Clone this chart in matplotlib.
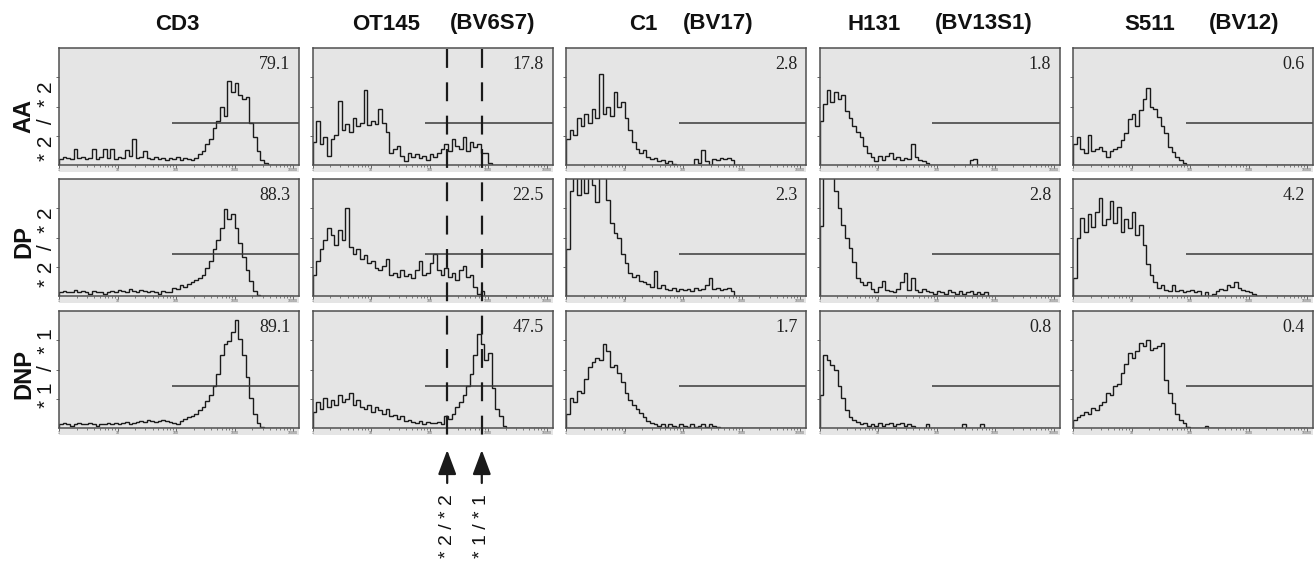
import numpy as np
import matplotlib.pyplot as plt
from matplotlib.patches import Rectangle

# --- LABELS ---
antibodies = ["CD3", "OT145", "C1", "H131", "S511"]
families = ["", "(BV6S7)", "(BV17)", "(BV13S1)", "(BV12)"]
groups = ["AA", "DP", "DNP"]
genotypes = ["* 2  /  * 2", "* 2  /  * 2", "* 1  /  * 1"]

# % positive printed in each panel (rows = groups, cols = antibodies)
percent_pos = [["79.1", "17.8", "2.8", "1.8", "0.6"],
               ["88.3", "22.5", "2.3", "2.8", "4.2"],
               ["89.1", "47.5", "1.7", "0.8", "0.4"]]

# marker gate and OT145 allele cut-offs (fluorescence units)
gate_start = 85
gate_level = 36
allele_cuts = [200, 780]
allele_labels = ["* 2 / * 2", "* 1 / * 1"]

# --- HISTOGRAMS: counts in % of full scale, 16 channels per decade from 10^0 ---
cd3_aa = [5, 7, 6, 5, 14, 6, 7, 5, 6, 14, 5, 7, 14, 6, 14, 5,
          7, 6, 13, 8, 22, 6, 7, 12, 6, 5, 7, 5, 6, 4, 6, 5,
          7, 4, 6, 5, 4, 6, 9, 12, 18, 22, 32, 38, 50, 42, 72, 62,
          70, 60, 56, 58, 36, 24, 12, 4, 2, 0, 0, 0, 0, 0, 0, 0]
cd3_dp = [3, 4, 3, 3, 5, 3, 4, 3, 2, 4, 3, 3, 2, 3, 4, 3,
          5, 4, 3, 6, 4, 3, 5, 4, 3, 4, 3, 2, 4, 3, 3, 7,
          6, 9, 8, 10, 12, 14, 15, 18, 24, 30, 40, 48, 58, 74, 66, 70,
          58, 45, 33, 22, 13, 4, 1, 0, 0, 0, 0, 0, 0, 0, 0, 0]
cd3_dnp = [3, 4, 3, 2, 3, 4, 3, 3, 4, 3, 2, 3, 3, 4, 3, 4,
           3, 4, 5, 3, 4, 5, 6, 5, 7, 6, 5, 6, 7, 6, 5, 4,
           3, 6, 8, 9, 10, 12, 15, 18, 23, 28, 36, 46, 62, 72, 74, 82,
           92, 76, 62, 44, 26, 12, 4, 1, 0, 0, 0, 0, 0, 0, 0, 0]

ot_aa = [20, 38, 18, 24, 8, 22, 26, 55, 30, 35, 28, 40, 33, 36, 64, 34,
         38, 35, 48, 36, 28, 10, 14, 16, 8, 3, 10, 7, 9, 6, 8, 4,
         9, 7, 10, 14, 18, 12, 22, 16, 14, 24, 12, 20, 15, 18, 10, 10,
         2, 0, 0, 0, 0, 0, 0, 0, 0, 0, 0, 0, 0, 0, 0, 0]
ot_dp = [18, 30, 40, 48, 58, 52, 44, 56, 48, 75, 42, 36, 40, 32, 35, 28,
         30, 24, 22, 26, 32, 18, 20, 16, 22, 17, 19, 15, 22, 30, 18, 20,
         28, 36, 22, 18, 24, 16, 20, 14, 22, 26, 16, 18, 8, 2, 4, 0,
         0, 0, 0, 0, 0, 0, 0, 0, 0, 0, 0, 0, 0, 0, 0, 0]
ot_dnp = [14, 22, 16, 26, 18, 24, 20, 28, 22, 25, 30, 20, 24, 18, 16, 20,
          14, 18, 15, 12, 16, 10, 11, 8, 10, 6, 7, 5, 4, 6, 3, 5,
          4, 4, 5, 3, 10, 8, 12, 18, 22, 28, 36, 46, 62, 80, 72, 58,
          64, 34, 16, 10, 2, 0, 0, 0, 0, 0, 0, 0, 0, 0, 0, 0]

c1_aa = [22, 30, 26, 40, 33, 44, 36, 48, 40, 78, 44, 50, 42, 62, 50, 54,
         40, 30, 20, 14, 10, 13, 7, 5, 6, 3, 4, 2, 3, 1, 0, 0,
         0, 0, 0, 5, 2, 13, 3, 0, 5, 4, 6, 5, 6, 4, 0, 0,
         0, 0, 0, 0, 0, 0, 0, 0, 0, 0, 0, 0, 0, 0, 0, 0]
c1_dp = [40, 90, 105, 86, 105, 88, 105, 95, 80, 105, 105, 82, 62, 54, 50, 36,
         28, 20, 16, 18, 13, 12, 10, 8, 21, 7, 9, 6, 5, 7, 4, 6,
         5, 6, 4, 7, 5, 6, 9, 15, 6, 7, 5, 6, 7, 4, 0, 0,
         0, 0, 0, 0, 0, 0, 0, 0, 0, 0, 0, 0, 0, 0, 0, 0]
c1_dnp = [12, 26, 22, 32, 30, 42, 52, 56, 60, 58, 72, 66, 52, 54, 47, 39,
          30, 24, 20, 16, 13, 9, 6, 4, 3, 2, 3, 1, 3, 2, 1, 3,
          2, 1, 3, 1, 2, 3, 1, 3, 2, 1, 0, 0, 0, 0, 0, 0,
          0, 0, 0, 0, 0, 0, 0, 0, 0, 0, 0, 0, 0, 0, 0, 0]

h131_aa = [38, 52, 64, 54, 62, 56, 60, 46, 40, 33, 28, 24, 16, 10, 7, 3,
           8, 4, 8, 10, 5, 7, 4, 6, 5, 18, 7, 4, 3, 2, 0, 0,
           0, 0, 0, 0, 0, 0, 0, 0, 0, 4, 5, 0, 0, 0, 0, 0,
           0, 0, 0, 0, 0, 0, 0, 0, 0, 0, 0, 0, 0, 0, 0, 0]
h131_dp = [60, 105, 105, 105, 90, 75, 61, 50, 41, 29, 15, 12, 9, 12, 6, 3,
           8, 13, 5, 4, 3, 6, 12, 20, 5, 15, 5, 3, 6, 4, 3, 2,
           4, 3, 2, 5, 3, 2, 4, 2, 3, 4, 2, 3, 2, 3, 0, 0,
           0, 0, 0, 0, 0, 0, 0, 0, 0, 0, 0, 0, 0, 0, 0, 0]
h131_dnp = [28, 62, 58, 54, 50, 36, 26, 15, 9, 7, 5, 3, 4, 2, 3, 2,
            4, 2, 3, 4, 2, 3, 4, 2, 3, 2, 0, 0, 0, 3, 0, 0,
            0, 0, 0, 0, 0, 0, 0, 3, 0, 0, 0, 0, 3, 0, 0, 0,
            0, 0, 0, 0, 0, 0, 0, 0, 0, 0, 0, 0, 0, 0, 0, 0]

s511_aa = [18, 24, 14, 10, 26, 12, 14, 15, 12, 7, 12, 14, 15, 21, 27, 39,
           44, 33, 47, 56, 66, 50, 48, 41, 33, 27, 15, 11, 7, 4, 2, 0,
           0, 0, 0, 0, 0, 0, 0, 0, 0, 0, 0, 0, 0, 0, 0, 0,
           0, 0, 0, 0, 0, 0, 0, 0, 0, 0, 0, 0, 0, 0, 0, 0]
s511_dp = [15, 50, 67, 55, 70, 59, 72, 84, 61, 66, 81, 62, 76, 55, 66, 58,
           72, 52, 61, 44, 27, 18, 12, 7, 9, 5, 4, 9, 4, 5, 3, 4,
           5, 3, 4, 0, 3, 0, 2, 4, 6, 5, 9, 8, 12, 7, 5, 4,
           3, 2, 0, 0, 0, 0, 0, 0, 0, 0, 0, 0, 0, 0, 0, 0]
s511_dnp = [7, 9, 11, 14, 12, 17, 15, 20, 22, 30, 28, 36, 38, 47, 55, 64,
            60, 66, 73, 70, 75, 67, 68, 70, 73, 41, 30, 21, 12, 7, 4, 1,
            0, 0, 0, 0, 2, 0, 0, 0, 0, 0, 0, 0, 0, 0, 0, 0,
            0, 0, 0, 0, 0, 0, 0, 0, 0, 0, 0, 0, 0, 0, 0, 0]

hists = [[cd3_aa, ot_aa, c1_aa, h131_aa, s511_aa],
         [cd3_dp, ot_dp, c1_dp, h131_dp, s511_dp],
         [cd3_dnp, ot_dnp, c1_dnp, h131_dnp, s511_dnp]]

# channel edges on the 4-decade log scale
edges = 10 ** (np.arange(65) / 16)
xlim = (1, 10 ** 4.1)

# --- LAYOUT (pixels) ---
W, H = 1316, 563
col_left = [59, 312.5, 566, 819.5, 1073]
col_w = 240
row_top = [48, 179, 311]
row_h = 117
strip = 7
bg = '#e5e5e5'
ink = '#1a1a1a'
frame = '#505050'


def fx(x):
    return x / W


def fy(y):
    return 1 - y / H


plt.rcParams['font.family'] = ['Liberation Sans', 'DejaVu Sans']
fig = plt.figure(figsize=(W / 100, H / 100), dpi=100)

for r in range(3):
    for c in range(5):
        l, t = col_left[c], row_top[r]
        # light strip under the axis holding the tick labels
        fig.add_artist(Rectangle((fx(l), fy(t + row_h + strip)), col_w / W, strip / H,
                                 transform=fig.transFigure, facecolor=bg,
                                 edgecolor='none', zorder=-1))
        ax = fig.add_axes([fx(l), fy(t + row_h), col_w / W, row_h / H])
        ax.set_facecolor(bg)
        ax.set_xscale('log')
        ax.set_xlim(xlim)
        ax.set_ylim(0, 100)
        ax.stairs(hists[r][c], edges, color=ink, lw=1.0)
        ax.hlines(gate_level, gate_start, xlim[1], color='#3a3a3a', lw=1.1)
        ax.text(0.965, 0.935, percent_pos[r][c], transform=ax.transAxes,
                ha='right', va='top', fontsize=13, family='Liberation Serif',
                color='#222222')
        ax.set_xticks([1, 10, 100, 1000, 10000])
        ax.set_xticklabels(['1', '10', '100', '1000', '10000'], fontsize=2.5,
                           color='#555555')
        ax.set_yticks([25, 50, 75])
        ax.set_yticklabels([])
        ax.tick_params(axis='x', which='major', length=2, width=0.6, pad=0.5,
                       color=frame, direction='out')
        ax.tick_params(axis='x', which='minor', length=1.2, width=0.5, color=frame)
        ax.tick_params(axis='y', length=2, width=0.6, color=frame, direction='out')
        for s in ax.spines.values():
            s.set_color(frame)
            s.set_linewidth(1.1)

# column titles
name_x = [177, 386, 643, 874, 1150]
fam_x = [0, 493, 718, 984, 1244]
for c in range(5):
    fig.text(fx(name_x[c]), fy(24), antibodies[c], ha='center', va='center',
             fontsize=16, fontweight='bold', color='#111111')
    if families[c]:
        fig.text(fx(fam_x[c]), fy(24), families[c], ha='center', va='center',
                 fontsize=16, fontweight='bold', color='#111111')

# row labels
group_y = [116, 242, 374]
geno_y = [121, 247, 368]
for r in range(3):
    fig.text(fx(24), fy(group_y[r]), groups[r], rotation=90, ha='center',
             va='center', fontsize=17, fontweight='bold', color='#111111')
    fig.text(fx(46), fy(geno_y[r]), genotypes[r], rotation=90, ha='center',
             va='center', fontsize=15, color='#111111')

# dashed allele cut-offs across the OT145 column, with arrows below
ov = fig.add_axes([fx(col_left[1]), fy(437), col_w / W, (437 - 49) / H])
ov.set_xscale('log')
ov.set_xlim(xlim)
ov.set_ylim(0, 1)
ov.axis('off')
for cut, lab in zip(allele_cuts, allele_labels):
    ov.plot([cut, cut], [1, 0], color=ink, lw=1.6, dashes=(8.5, 6.5))
    ov.annotate('', xy=(cut, fy(450)), xytext=(cut, fy(483)),
                xycoords=('data', 'figure fraction'),
                arrowprops=dict(arrowstyle='-|>,head_length=0.75,head_width=0.28',
                                mutation_scale=20, lw=1.6, color=ink,
                                shrinkA=0, shrinkB=0),
                annotation_clip=False)
    ov.annotate(lab, xy=(cut, fy(494)), xycoords=('data', 'figure fraction'),
                rotation=90, ha='center', va='top', fontsize=14, color='#111111',
                annotation_clip=False)

fig.savefig('out.png', dpi=100, facecolor='white')
